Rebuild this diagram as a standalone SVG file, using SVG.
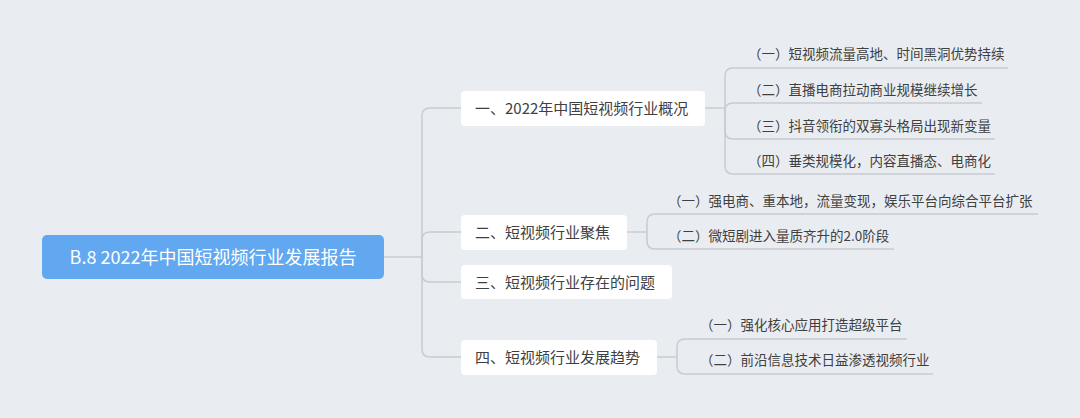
<svg xmlns="http://www.w3.org/2000/svg" width="1080" height="418" viewBox="0 0 1080 418">
<style>
.bg{fill:#e9edf2}
.ln{fill:none;stroke:#c8ccd1;stroke-width:1.5}
.n1{fill:#ffffff}
.t1{font-family:"Noto Sans CJK SC","Noto Sans",sans-serif;font-size:15px;fill:#404040}
.t2{font-family:"Noto Sans CJK SC","Noto Sans",sans-serif;font-size:13.5px;fill:#404040}
.tr{font-family:"Noto Sans CJK SC","Noto Sans",sans-serif;font-size:18px;fill:#ffffff}
</style>
<rect class="bg" x="0" y="0" width="1080" height="418"/>
<g id="connectors">
<path class="ln" d="M384 257 H422"/>
<path class="ln" d="M422 257 V116 Q422 108 430 108 H461"/>
<path class="ln" d="M422 257 V240 Q422 232 430 232 H461"/>
<path class="ln" d="M422 257 V274 Q422 282 430 282 H461"/>
<path class="ln" d="M422 257 V349 Q422 357 430 357 H461"/>
<path class="ln" d="M705 108 H725"/>
<path class="ln" d="M725 108 V76 Q725 68 733 68 H1008"/>
<path class="ln" d="M725 108 V111 Q725 103 733 103 H982"/>
<path class="ln" d="M725 108 V131 Q725 139 733 139 H995"/>
<path class="ln" d="M725 108 V166 Q725 174 733 174 H995"/>
<path class="ln" d="M627 232 H647"/>
<path class="ln" d="M647 232 V222 Q647 214 655 214 H1038"/>
<path class="ln" d="M647 232 V241 Q647 249 655 249 H894"/>
<path class="ln" d="M657 357 H677"/>
<path class="ln" d="M677 357 V347 Q677 339 685 339 H907"/>
<path class="ln" d="M677 357 V366 Q677 374 685 374 H933"/>
</g>
<g id="root">
<rect x="42" y="235" width="342" height="44" rx="5" fill="#61a8f0"/>
<text class="tr" x="213" y="263.5" text-anchor="middle">B.8 2022年中国短视频行业发展报告</text>
</g>
<g id="n1">
<rect class="n1" x="461" y="91" width="244" height="35" rx="4"/>
<text class="t1" x="475" y="114">一、2022年中国短视频行业概况</text>
</g>
<g id="n2">
<rect class="n1" x="461" y="215" width="166" height="35" rx="4"/>
<text class="t1" x="475" y="238">二、短视频行业聚焦</text>
</g>
<g id="n3">
<rect class="n1" x="461" y="265" width="211" height="34" rx="4"/>
<text class="t1" x="475" y="288">三、短视频行业存在的问题</text>
</g>
<g id="n4">
<rect class="n1" x="461" y="340" width="196" height="35" rx="4"/>
<text class="t1" x="475" y="363">四、短视频行业发展趋势</text>
</g>
<g id="n1c1"><text class="t2" x="748" y="59">（一）短视频流量高地、时间黑洞优势持续</text></g>
<g id="n1c2"><text class="t2" x="748" y="95">（二）直播电商拉动商业规模继续增长</text></g>
<g id="n1c3"><text class="t2" x="748" y="131">（三）抖音领衔的双寡头格局出现新变量</text></g>
<g id="n1c4"><text class="t2" x="748" y="166">（四）垂类规模化，内容直播态、电商化</text></g>
<g id="n2c1"><text class="t2" x="668" y="206">（一）强电商、重本地，流量变现，娱乐平台向综合平台扩张</text></g>
<g id="n2c2"><text class="t2" x="668" y="241">（二）微短剧进入量质齐升的2.0阶段</text></g>
<g id="n4c1"><text class="t2" x="700" y="330">（一）强化核心应用打造超级平台</text></g>
<g id="n4c2"><text class="t2" x="700" y="365">（二）前沿信息技术日益渗透视频行业</text></g>
</svg>
